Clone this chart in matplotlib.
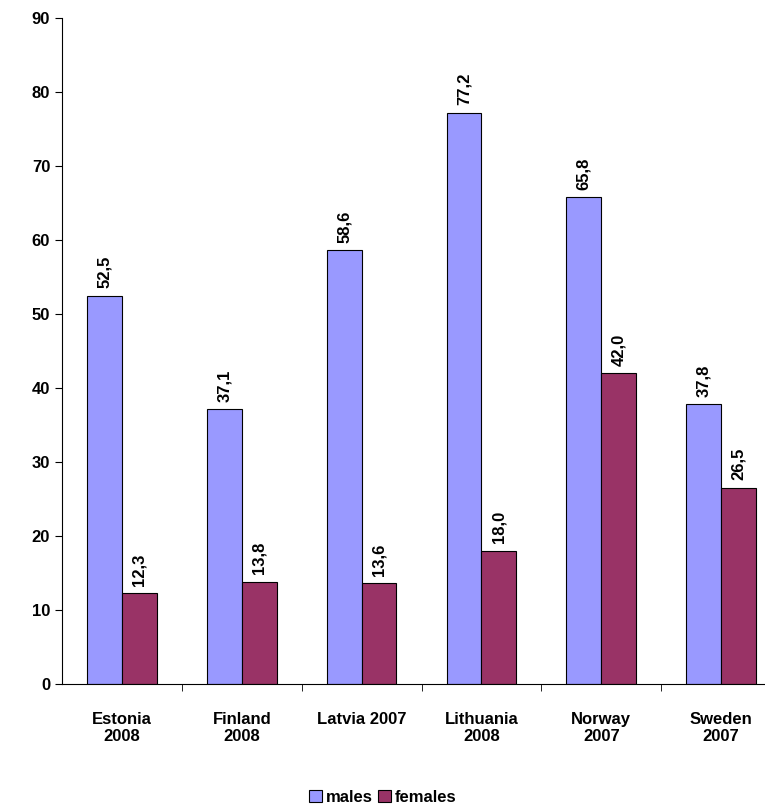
import numpy as np
import matplotlib
matplotlib.use("Agg")
import matplotlib.pyplot as plt

plt.rcParams['font.family'] = ['Liberation Sans', 'DejaVu Sans']
plt.rcParams['font.weight'] = 'bold'

# %% data
categories = ['Estonia\n2008', 'Finland\n2008', 'Latvia 2007', 'Lithuania\n2008', 'Norway\n2007', 'Sweden\n2007']
males = [52.5, 37.1, 58.6, 77.2, 65.8, 37.8]
females = [12.3, 13.8, 13.6, 18.0, 42.0, 26.5]

# %% plot
fig = plt.figure(figsize=(7.65, 8.1), dpi=100)
ax = fig.add_axes([62/765, 126/810, 719/765, 666/810])

x = np.arange(len(categories))
w = 0.29
b1 = ax.bar(x - w/2, males, w, color='#9999FF', edgecolor='black', linewidth=0.8, label='males')
b2 = ax.bar(x + w/2, females, w, color='#993366', edgecolor='black', linewidth=0.8, label='females')

for bars, vals in ((b1, males), (b2, females)):
    for r, v in zip(bars, vals):
        ax.text(r.get_x() + r.get_width()/2, v + 1.0, f'{v:.1f}'.replace('.', ','),
                rotation=90, ha='center', va='bottom', fontsize=12, fontweight='bold')

ax.set_ylim(0, 90)
ax.set_yticks(range(0, 91, 10))
ax.set_xlim(-0.5, len(categories) - 0.5)
ax.set_xticks(x)
ax.set_xticklabels(categories, fontsize=12, fontweight='bold')
ax.set_xticks(np.arange(0.5, len(categories) - 0.5, 1), minor=True)
ax.tick_params(axis='x', which='major', length=0, pad=20)
ax.tick_params(axis='x', which='minor', length=5, direction='out')
ax.tick_params(axis='y', labelsize=12, length=5, direction='out')
for t in ax.get_yticklabels():
    t.set_fontweight('bold')
ax.spines['top'].set_visible(False)
ax.spines['right'].set_visible(False)

fig.legend(handles=[b1, b2], loc='lower center', bbox_to_anchor=(0.5, -0.012), ncol=2,
           frameon=False, handlelength=0.8, handleheight=0.8,
           handletextpad=0.2, columnspacing=0.3, prop={'weight': 'bold', 'size': 12})

fig.savefig('out.png', dpi=100)
